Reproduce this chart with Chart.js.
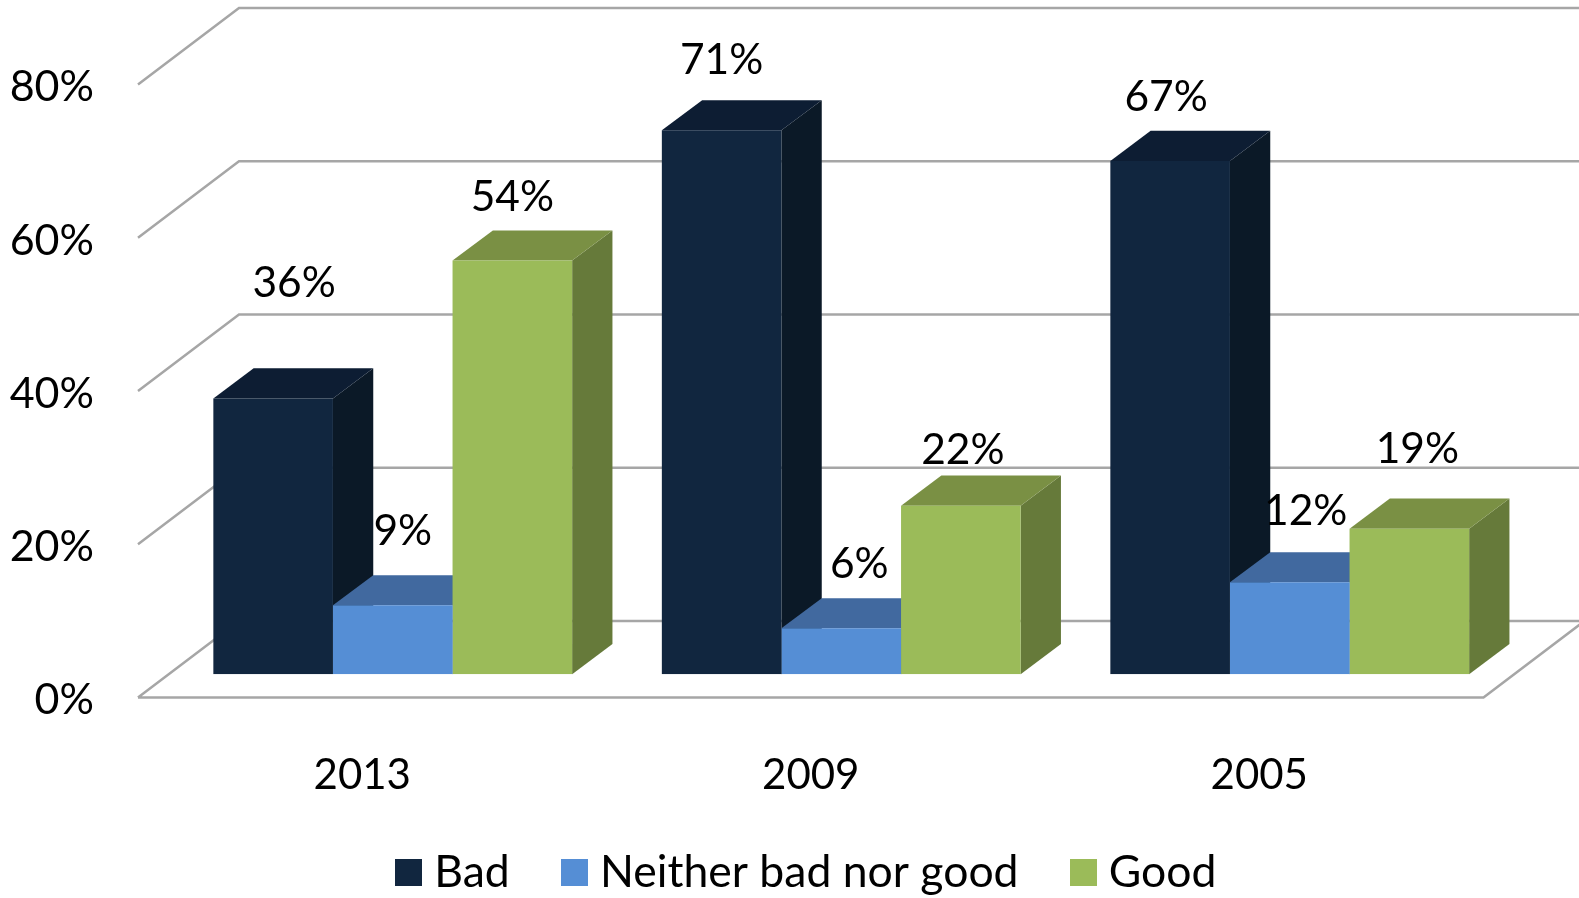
<!DOCTYPE html>
<html>
<head>
<meta charset="utf-8">
<title>Bad / Neither / Good</title>
<script src="https://cdn.jsdelivr.net/npm/chart.js@4"></script>
<style>
  html, body { margin: 0; padding: 0; background: #fff; }
  #chart { display: block; }
</style>
</head>
<body>
<canvas id="chart" width="1579" height="898"></canvas>
<script>
const years = ['2013', '2009', '2005'];
const bad = [36, 71, 67];
const neither = [9, 6, 12];
const good = [54, 22, 19];
const seriesNames = ['Bad', 'Neither bad nor good', 'Good'];

const FONT = 'Lato, Carlito, sans-serif';

// depth of the floor, and where the bars stand on it
const wallDepth = { x: 101, y: -76.5 };
const barShift = { x: 30.5, y: -23.2 };
const barDepth = { x: 40.3, y: -30.2 };

// face colours per series: front, top, side
const faces = [
  ['#11263F', '#0D1D33', '#0B1927'],
  ['#558ED5', '#41699F', '#41699F'],
  ['#9BBB59', '#7A9044', '#667A3A']
];

// value labels sit by hand around the bars, [dx, dy] from the top of each bar
const labelNudges = [
  [[21, -115], [0, -70], [-4, -64]],
  [[10, -74], [18, -64], [16, -71]],
  [[0, -63], [2, -55], [8, -79]]
];

function poly(ctx, color, pts) {
  ctx.fillStyle = color;
  ctx.beginPath();
  pts.forEach((p, i) => i ? ctx.lineTo(p[0], p[1]) : ctx.moveTo(p[0], p[1]));
  ctx.closePath();
  ctx.fill();
}

// small square for the legend, its size comes from the image
function swatch(color) {
  const c = document.createElement('canvas');
  c.width = 27;
  c.height = 27;
  const g = c.getContext('2d');
  g.fillStyle = color;
  g.fillRect(0, 0, 27, 27);
  return c;
}

const walls3d = {
  id: 'walls3d',
  beforeDraw(chart) {
    const ctx = chart.ctx;
    const { x, y } = chart.scales;
    ctx.save();
    ctx.strokeStyle = '#A6A6A6';
    ctx.lineWidth = 2.5;
    ctx.beginPath();
    y.ticks.forEach(t => {
      const py = y.getPixelForValue(t.value);
      ctx.moveTo(x.left, py);
      ctx.lineTo(x.left + wallDepth.x, py + wallDepth.y);
      ctx.lineTo(x.right + wallDepth.x, py + wallDepth.y);
    });
    // front and right edges of the floor
    const floor = y.getPixelForValue(0);
    ctx.moveTo(x.left, floor);
    ctx.lineTo(x.right, floor);
    ctx.lineTo(x.right + wallDepth.x, floor + wallDepth.y);
    ctx.stroke();
    ctx.restore();
  }
};

const bars3d = {
  id: 'bars3d',
  beforeDatasetsDraw(chart) {
    const ctx = chart.ctx;
    ctx.save();
    ctx.translate(barShift.x, barShift.y);
    // tops and sides first, the library paints the fronts over them
    chart.data.datasets.forEach((ds, i) => {
      chart.getDatasetMeta(i).data.forEach(bar => {
        const l = bar.x - bar.width / 2, r = bar.x + bar.width / 2;
        const t = bar.y, b = bar.base;
        const dx = barDepth.x, dy = barDepth.y;
        poly(ctx, faces[i][2], [[r, t], [r + dx, t + dy], [r + dx, b + dy], [r, b]]);
        poly(ctx, faces[i][1], [[l, t], [l + dx, t + dy], [r + dx, t + dy], [r, t]]);
      });
    });
  },
  afterDatasetsDraw(chart) {
    const ctx = chart.ctx;
    ctx.restore();
    ctx.save();
    ctx.font = '42.5px ' + FONT;
    ctx.fillStyle = '#000';
    ctx.textAlign = 'center';
    ctx.textBaseline = 'middle';
    chart.data.datasets.forEach((ds, i) => {
      chart.getDatasetMeta(i).data.forEach((bar, j) => {
        const n = labelNudges[i][j];
        ctx.fillText(ds.data[j] + '%', bar.x + barShift.x + n[0], bar.y + barShift.y + n[1]);
      });
    });
    ctx.restore();
  }
};

new Chart(document.getElementById('chart').getContext('2d'), {
  type: 'bar',
  data: {
    labels: years,
    datasets: [
      { label: seriesNames[0], data: bad, backgroundColor: faces[0][0] },
      { label: seriesNames[1], data: neither, backgroundColor: faces[1][0] },
      { label: seriesNames[2], data: good, backgroundColor: faces[2][0] }
    ]
  },
  options: {
    responsive: false,
    animation: false,
    categoryPercentage: 0.8,
    barPercentage: 1,
    layout: { padding: { top: 84.6, right: 95.5, left: 0, bottom: -6.5 } },
    scales: {
      x: {
        grid: { display: false },
        border: { display: false },
        afterFit: s => {
          s.height = 91.5;
          // the legend's padding eats into this box, keep the digits unclipped
          s._computeLabelArea = () => undefined;
        },
        ticks: { color: '#000', font: { family: FONT, size: 42 }, padding: 45, maxRotation: 0 }
      },
      y: {
        min: 0,
        max: 80,
        grid: { display: false },
        border: { display: false },
        afterFit: s => { s.width = 138; },
        ticks: {
          stepSize: 20,
          color: '#000',
          padding: 36,
          labelOffset: 3,
          font: { family: FONT, size: 43 },
          callback: v => v + '%'
        }
      }
    },
    plugins: {
      tooltip: { enabled: false },
      legend: {
        position: 'bottom',
        fullSize: false,
        labels: {
          color: '#000',
          font: { family: FONT, size: 44.5 },
          usePointStyle: true,
          pointStyleWidth: 7,
          padding: 61,
          generateLabels: chart => chart.data.datasets.map((ds, i) => ({
            text: ds.label,
            fontColor: '#000',
            pointStyle: swatch(faces[i][0]),
            datasetIndex: i
          }))
        }
      }
    }
  },
  plugins: [walls3d, bars3d]
});
</script>
</body>
</html>
